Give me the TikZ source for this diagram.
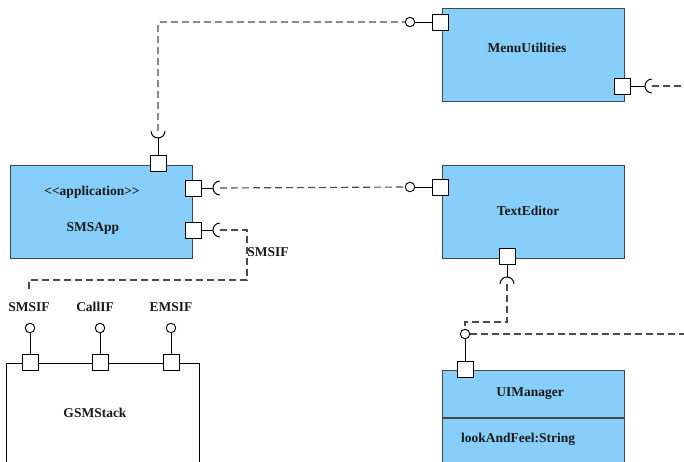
\documentclass[tikz,border=0pt]{standalone}
\usepackage{fontspec}
\setmainfont{Liberation Serif}
\definecolor{compblue}{RGB}{135,206,250}
\definecolor{boxline}{RGB}{70,70,70}
\definecolor{depgray}{RGB}{75,75,75}
\tikzset{
  comp/.style={draw=boxline, fill=compblue, line width=1.2pt, inner sep=0pt,
               anchor=north west, minimum width=182pt, minimum height=93pt},
  part/.style={draw=black, fill=white, line width=1.1pt, inner sep=0pt,
               anchor=north west, minimum width=193pt, minimum height=110pt},
  port/.style={draw=black, fill=white, line width=1pt, inner sep=0pt, minimum size=16pt},
  lolli/.style={circle, draw=black, fill=white, line width=0.9pt, inner sep=0pt, minimum size=9.5pt},
  wire/.style={draw=black, line width=1pt},
  dep/.style={draw=depgray, line width=1.15pt, dash pattern=on 7pt off 4pt},
  lbl/.style={font=\fontsize{13.5}{16}\selectfont\bfseries, inner sep=0pt, text=black!90}
}
\begin{document}
\begin{tikzpicture}[x=1pt, y=-1pt]
  \useasboundingbox (0,0) rectangle (684,461);

  % components
  \node[comp] (menu) at (442,8) {};
  \node[comp] (app) at (10,165) {};
  \node[comp] (txt) at (442,165) {};
  \node[comp, minimum height=110pt] (ui) at (442,370) {};
  \draw[draw=boxline, line width=1.2pt] (ui.west |- 0,418) coordinate (uiL) -- (ui.east |- 0,418) coordinate (uiR);
  \node[part] (gsm) at (6,363) {};

  % labels
  \node[lbl] at (527,48) {MenuUtilities};
  \node[lbl] at (92,192) {<\kern0pt<application>\kern0pt>};
  \node[lbl] at (93,228) {SMSApp};
  \node[lbl] at (528,211) {TextEditor};
  \node[lbl] at (530,394) {UIManager};
  \node[lbl, anchor=west] at (461,439) {lookAndFeel:String};
  \node[lbl] at (95,413) {GSMStack};
  \node[lbl] (lblIF) at (268,252) {SMSIF};
  \node[lbl] at (29,307) {SMSIF};
  \node[lbl] at (95,307) {CallIF};
  \node[lbl] at (171,307) {EMSIF};

  % ports
  \node[port] (pMenuL) at (440,22) {};
  \node[port] (pMenuR) at (622,86) {};
  \node[port] (pAppT) at (158,163) {};
  \node[port] (pAppR1) at (193,188) {};
  \node[port] (pAppR2) at (193,230) {};
  \node[port] (pTxtL) at (440,187) {};
  \node[port] (pTxtB) at (507,256) {};
  \node[port] (pUI) at (465,369) {};
  \node[port] (pG1) at (30,362) {};
  \node[port] (pG2) at (100,362) {};
  \node[port] (pG3) at (171,362) {};

  % provided interfaces (lollipops)
  \node[lolli] (lMenu) at (410,22) {};
  \node[lolli] (lTxt) at (410,187) {};
  \node[lolli] (lUI) at (465,334) {};
  \node[lolli] (lG1) at (30,328) {};
  \node[lolli] (lG2) at (100,328) {};
  \node[lolli] (lG3) at (171,328) {};

  \draw[wire] (lMenu) -- (pMenuL);
  \draw[wire] (lTxt) -- (pTxtL);
  \draw[wire] (lUI) -- (pUI);
  \draw[wire] (lG1) -- (pG1);
  \draw[wire] (lG2) -- (pG2);
  \draw[wire] (lG3) -- (pG3);

  % required interfaces (sockets)
  \coordinate (sAppT) at (158,131);
  \coordinate (sAppR1) at (220,188);
  \coordinate (sAppR2) at (220,230);
  \coordinate (sTxtB) at (507,284);
  \coordinate (sMenuR) at (652,86);

  \draw[wire] (pAppT.north) -- ([yshift=-7pt]sAppT);
  \draw[wire] ([xshift=-7pt]sAppT) arc[start angle=180, end angle=360, radius=7pt];
  \draw[wire] (pAppR1.east) -- ([xshift=-7pt]sAppR1);
  \draw[wire] ([yshift=7pt]sAppR1) arc[start angle=90, end angle=270, radius=7pt];
  \draw[wire] (pAppR2.east) -- ([xshift=-7pt]sAppR2);
  \draw[wire] ([yshift=7pt]sAppR2) arc[start angle=90, end angle=270, radius=7pt];
  \draw[wire] (pTxtB.south) -- ([yshift=7pt]sTxtB);
  \draw[wire] ([xshift=7pt]sTxtB) arc[start angle=0, end angle=180, radius=7pt];
  \draw[wire] (pMenuR.east) -- ([xshift=-7pt]sMenuR);
  \draw[wire] ([yshift=7pt]sMenuR) arc[start angle=90, end angle=270, radius=7pt];

  % dependencies
  \coordinate (bendA) at (247,280);
  \coordinate (endA) at (29,289);
  \coordinate (bendB) at (465,322);
  \coordinate (edgeUI) at (684,334);
  \coordinate (edgeMenu) at (684,86);

  \draw[dep, rounded corners=2pt] (sAppT) |- (lMenu.west);
  \draw[dep] (sAppR1) -- (lTxt.west);
  \draw[dep] (sAppR2) -| (bendA) -| (endA);
  \draw[dep] (sTxtB) |- (bendB) -- (lUI.north);
  \draw[dep] (lUI.east) -- (edgeUI);
  \draw[dep] (sMenuR) -- (edgeMenu);
\end{tikzpicture}
\end{document}
